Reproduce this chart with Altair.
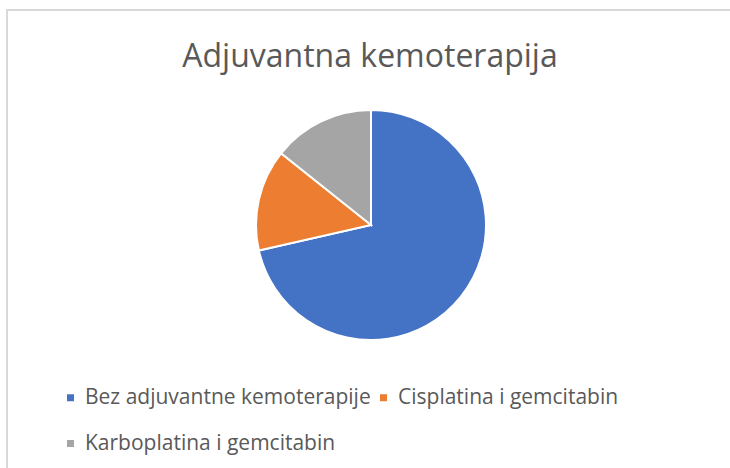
import altair as alt
import pandas as pd

categories = ["Bez adjuvantne kemoterapije", "Cisplatina i gemcitabin", "Karboplatina i gemcitabin"]
values = [10, 2, 2]
colors = ["#4472C4", "#ED7D31", "#A5A5A5"]
title_text = "Adjuvantna kemoterapija"

df = pd.DataFrame({"kategorija": categories, "vrijednost": values, "idx": list(range(len(categories)))})

frame = alt.Chart(alt.Data(values=[{}])).mark_rect(
    fill=None, stroke="#d9d9d9", strokeWidth=2
).encode(
    x=alt.value(-249), y=alt.value(-100), x2=alt.value(500), y2=alt.value(380)
)

title = alt.Chart(alt.Data(values=[{"t": title_text}])).mark_text(
    font="Open Sans", fontSize=32, color="#595959", align="center", baseline="alphabetic"
).encode(
    x=alt.value(114), y=alt.value(-43), text="t:N"
)

pie = alt.Chart(df).mark_arc(outerRadius=115, stroke="white", strokeWidth=2).encode(
    theta=alt.Theta("vrijednost:Q", stack=True),
    color=alt.Color(
        "kategorija:N",
        scale=alt.Scale(domain=categories, range=colors),
        sort=categories,
        legend=alt.Legend(
            title=None,
            orient="none",
            legendX=-196,
            legendY=277,
            direction="horizontal",
            columns=2,
            symbolType="square",
            symbolSize=49,
            symbolStrokeWidth=0,
            labelFont="Open Sans",
            labelFontSize=21,
            labelColor="#595959",
            labelOffset=4,
            labelLimit=400,
            columnPadding=2,
            rowPadding=24,
        ),
    ),
    order=alt.Order("idx:Q"),
)

chart = alt.layer(frame, title, pie).properties(
    width=230,
    height=230,
    autosize=alt.AutoSizeParams(type="none"),
    padding={"left": 256, "top": 110, "right": 244, "bottom": 128},
    background="white",
).configure_view(stroke=None)

chart.save("out.html", embed_options={"renderer": "svg", "actions": False})
